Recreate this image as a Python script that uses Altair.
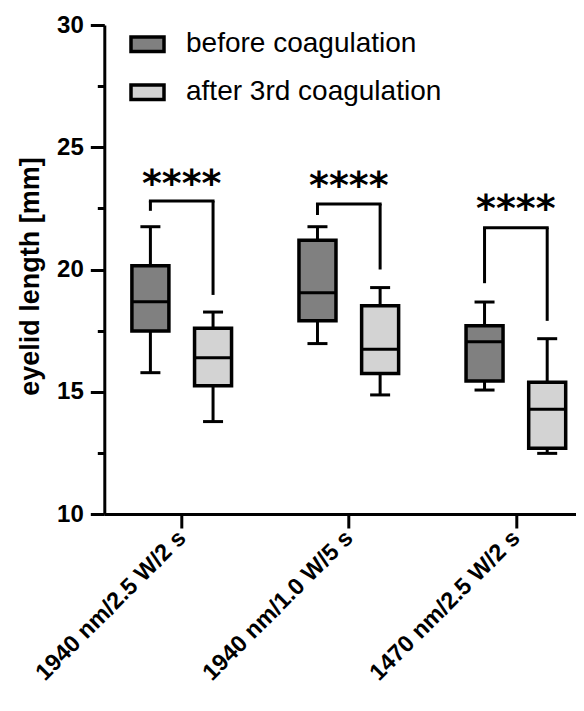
import altair as alt
import pandas as pd

# ---------------- data ----------------
categories = ["1940 nm/2.5 W/2 s", "1940 nm/1.0 W/5 s", "1470 nm/2.5 W/2 s"]
conditions = ["before coagulation", "after 3rd coagulation"]

# box statistics per category, for each condition
before_min = [15.78, 16.97, 15.07]
before_q1 = [17.48, 17.90, 15.44]
before_med = [18.68, 19.05, 17.05]
before_q3 = [20.15, 21.20, 17.70]
before_max = [21.75, 21.75, 18.67]

after_min = [13.78, 14.87, 12.48]
after_q1 = [15.25, 15.75, 12.69]
after_med = [16.39, 16.74, 14.28]
after_q3 = [17.60, 18.52, 15.39]
after_max = [18.26, 19.26, 17.17]

# significance brackets
bracket_top = [22.80, 22.68, 21.71]
bracket_left_end = [22.40, 22.23, 19.44]
bracket_right_end = [18.96, 20.00, 17.90]
star_y = [23.76, 23.66, 22.74]
star_label = ["****", "****", "****"]

# ---------------- styling ----------------
FONT = "Liberation Sans"
DARK = "#808080"
LIGHT = "#d3d3d3"
OFFSET = 0.1875  # half distance between paired boxes, in category-step units

rows = []
for i, cat in enumerate(categories):
    rows.append(dict(cat=cat, idx=i, cond=conditions[0], pos=i - OFFSET,
                     mn=before_min[i], q1=before_q1[i], med=before_med[i],
                     q3=before_q3[i], mx=before_max[i]))
    rows.append(dict(cat=cat, idx=i, cond=conditions[1], pos=i + OFFSET,
                     mn=after_min[i], q1=after_q1[i], med=after_med[i],
                     q3=after_q3[i], mx=after_max[i]))
boxes = pd.DataFrame(rows)

brackets = pd.DataFrame(dict(
    idx=list(range(len(categories))),
    left=[i - OFFSET for i in range(len(categories))],
    right=[i + OFFSET for i in range(len(categories))],
    top=bracket_top, lbot=bracket_left_end, rbot=bracket_right_end,
    sy=star_y, stars=star_label,
))

label_expr = "[" + ",".join("'" + c + "'" for c in categories) + "][round(datum.value)]"

x_scale = alt.Scale(domain=[-0.4335, 2.33], nice=False, zero=False)
y_scale = alt.Scale(domain=[10, 30], nice=False, zero=False)

x_axis = alt.Axis(
    values=[0, 1, 2], labelExpr=label_expr, title=None, grid=False,
    domainColor="black", domainWidth=3, tickColor="black", tickWidth=3, tickSize=14,
    labelAngle=-45, labelAlign="right", labelBaseline="middle", labelPadding=6,
    labelFont=FONT, labelFontSize=23.5, labelFontWeight="bold", labelColor="black",
    labelOverlap=False, labelBound=False, labelFlush=False, labelLimit=0,
)
y_axis = alt.Axis(
    values=[10, 12.5, 15, 17.5, 20, 22.5, 25, 27.5, 30],
    labelExpr="datum.value % 5 == 0 ? datum.label : ''",
    title="eyelid length [mm]", titleFont=FONT, titleFontSize=27, titleFontWeight="bold",
    titleColor="black", titlePadding=12, titleY=251, grid=False,
    domainColor="black", domainWidth=3, tickColor="black", tickWidth=3,
    tickSize={"condition": {"test": "datum.value % 5 != 0", "value": 7}, "value": 14},
    labelFont=FONT, labelFontSize=24, labelFontWeight="bold", labelColor="black",
    labelPadding=7, labelOverlap=False,
)

X = alt.X("pos:Q", scale=x_scale, axis=x_axis)

base = alt.Chart(boxes)

whiskers = base.mark_rule(color="black", strokeWidth=3).encode(
    x=X,
    y=alt.Y("mn:Q", scale=y_scale, axis=y_axis),
    y2="mx:Q",
)

box = base.mark_bar(orient="vertical", size=37, stroke="black", strokeWidth=3.5,
                    strokeJoin="miter", opacity=1).encode(
    x=X,
    y=alt.Y("q1:Q", scale=y_scale, axis=y_axis),
    y2="q3:Q",
    color=alt.Color(
        "cond:N",
        scale=alt.Scale(domain=conditions, range=[DARK, LIGHT]),
        legend=alt.Legend(
            title=None, orient="none", legendX=24.7, legendY=0.7,
            symbolType="M-1,-0.44H1V0.44H-1Z", symbolSize=1089,
            symbolStrokeColor="black", symbolStrokeWidth=3.5, symbolOpacity=1,
            labelFont=FONT, labelFontSize=28, labelColor="black", labelLimit=0,
            labelOffset=20, rowPadding=15, padding=0,
        ),
    ),
)

median = base.mark_tick(orient="horizontal", size=37, thickness=3, color="black",
                        opacity=1).encode(
    x=X, y=alt.Y("med:Q", scale=y_scale, axis=y_axis),
)
cap_min = base.mark_tick(orient="horizontal", size=20, thickness=3, color="black",
                         opacity=1).encode(
    x=X, y=alt.Y("mn:Q", scale=y_scale, axis=y_axis),
)
cap_max = base.mark_tick(orient="horizontal", size=20, thickness=3, color="black",
                         opacity=1).encode(
    x=X, y=alt.Y("mx:Q", scale=y_scale, axis=y_axis),
)

bbase = alt.Chart(brackets)
XL = alt.X("left:Q", scale=x_scale, axis=x_axis)
XR = alt.X("right:Q", scale=x_scale, axis=x_axis)
br_top = bbase.mark_rule(color="black", strokeWidth=3, strokeCap="square").encode(
    x=XL, x2="right:Q", y=alt.Y("top:Q", scale=y_scale, axis=y_axis),
)
br_left = bbase.mark_rule(color="black", strokeWidth=3).encode(
    x=XL, y=alt.Y("top:Q", scale=y_scale, axis=y_axis), y2="lbot:Q",
)
br_right = bbase.mark_rule(color="black", strokeWidth=3).encode(
    x=XR, y=alt.Y("top:Q", scale=y_scale, axis=y_axis), y2="rbot:Q",
)
stars = bbase.mark_text(font="DejaVu Sans", fontSize=38, fontWeight="bold",
                        color="black", align="center", baseline="middle",
                        dy=7).encode(
    x=alt.X("idx:Q", scale=x_scale, axis=x_axis),
    y=alt.Y("sy:Q", scale=y_scale, axis=y_axis),
    text="stars:N",
)

chart = alt.layer(
    whiskers, box, median, cap_min, cap_max, br_top, br_left, br_right, stars
).properties(
    width=471.7, height=489,
    autosize=alt.AutoSizeParams(type="none"),
    padding={"left": 96.3, "top": 17, "right": 0, "bottom": 186},
    background="white",
).configure_view(stroke=None)

chart.save("out.html", embed_options={"renderer": "svg", "actions": False})
